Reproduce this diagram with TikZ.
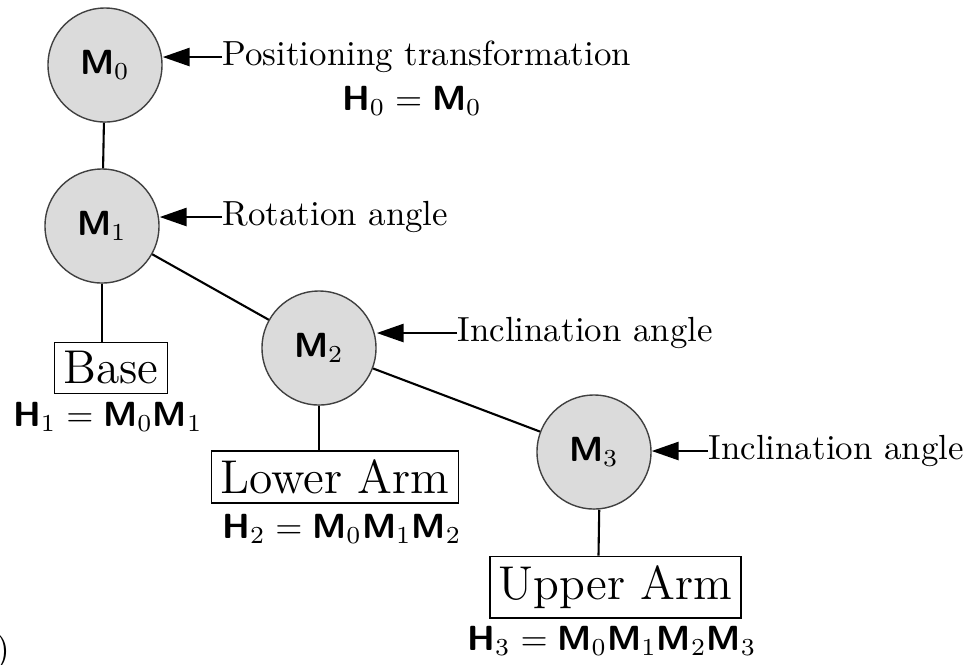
\documentclass[tikz,border=0pt]{standalone}
\usepackage{fontspec}
\usetikzlibrary{arrows.meta}
\newcommand{\mM}{\mbox{\sffamily\bfseries M}}
\newcommand{\mH}{\mbox{\sffamily\bfseries H}}
\begin{document}
\begin{tikzpicture}[x=0.2866pt,y=-0.2866pt,
  joint/.style={circle,draw=black!75,fill=black!14,line width=0.4pt,minimum size=32.7pt,inner sep=0pt},
  part/.style={draw,line width=0.5pt,inner xsep=2.6pt,inner ysep=2.6pt,font=\fontsize{13.6}{16}\selectfont},
  note/.style={anchor=west,inner sep=0pt},
  formula/.style={anchor=base,inner sep=0pt},
  link/.style={line width=0.6pt},
  feed/.style={line width=0.6pt,-{Triangle[length=7.7pt,width=5.2pt]}}]
\useasboundingbox (0,0) rectangle (968,664);
% joints
\node[joint] (m0) at (105,65) {$\mM_0$};
\node[joint] (m1) at (102,226) {$\mM_1$};
\node[joint] (m2) at (319,348) {$\mM_2$};
\node[joint] (m3) at (594,452) {$\mM_3$};
% parts
\node[part] (base) at (111,368) {Base};
\node[part] (lower) at (335,477) {Lower Arm};
\node[part] (upper) at (615.5,587) {Upper Arm};
% formulas
\node[formula] (h0) at (412,110) {$\mH_0=\mM_0$};
\node[formula] (h1) at (108,426) {$\mH_1=\mM_0\mM_1$};
\node[formula] (h2) at (342,538) {$\mH_2=\mM_0\mM_1\mM_2$};
\node[formula] (h3) at (612,650) {$\mH_3=\mM_0\mM_1\mM_2\mM_3$};
% notes
\node[note] (t0) at (222,57) {Positioning transformation};
\node[note] (t1) at (222,217) {Rotation angle};
\node[note] (t2) at (457,333) {Inclination angle};
\node[note] (t3) at (708,451) {Inclination angle};
% fragment of caption
\node[inner sep=0pt] (cap) at (3,652) {)};
% links
\draw[link] (m0) -- (m1);
\draw[link] (m1) -- (m2);
\draw[link] (m2) -- (m3);
\draw[link] (m1.south) -- (m1.south |- base.north);
\draw[link] (m2.south) -- (m2.south |- lower.north);
\path (upper.north) ++(-17,0) coordinate (u3);
\draw[link] ([xshift=1.5pt]m3.south) -- (u3);
% arrows
\draw[feed] (t0.west) -- (m0.east |- t0.west);
\draw[feed] (t1.west) -- (m1.east |- t1.west);
\draw[feed] (t2.west) -- (m2.east |- t2.west);
\draw[feed] (t3.west) -- (m3.east |- t3.west);
\end{tikzpicture}
\end{document}
